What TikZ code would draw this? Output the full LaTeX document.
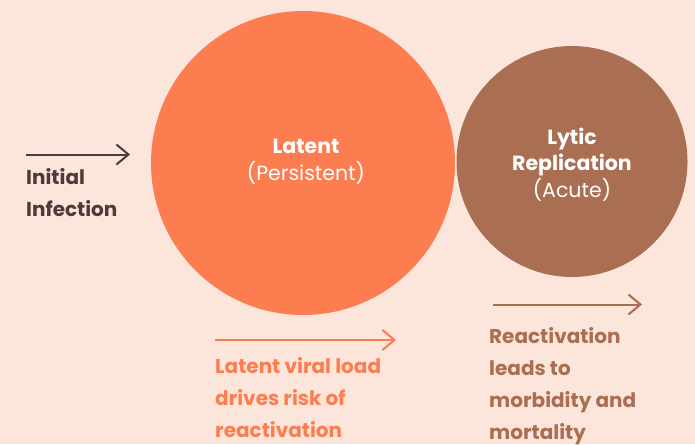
\documentclass[tikz,border=0pt]{standalone}
\usepackage{fontspec}
\setmainfont{Poppins}
\usetikzlibrary{arrows.meta}
\definecolor{bgpeach}{HTML}{FCE5DB}
\definecolor{latentorange}{HTML}{FC7E50}
\definecolor{lyticbrown}{HTML}{AA6E52}
\definecolor{darkink}{HTML}{4B3B3B}
\tikzset{
  phase/.style={circle, inner sep=0pt},
  phasetext/.style={inner sep=0pt, align=center, text=white,
    font=\fontsize{20.5}{26.5}\selectfont},
  flowarrow/.style={line width=2pt, -{Straight Barb[length=12pt, width=20pt, line width=2pt]}},
  caption/.style={anchor=north west, inner sep=0pt, align=left,
    font=\fontsize{20}{32}\selectfont\bfseries},
}
\begin{document}
\begin{tikzpicture}[x=1pt, y=-1pt]
  % canvas
  \fill[bgpeach] (0,0) rectangle (695,444);
  \useasboundingbox (0,0) rectangle (695,444);

  % the two phases
  \node[phase, fill=latentorange, minimum size=304pt] (latent) at (303,163) {};
  \node[phasetext] (latentTxt) at (306,161.5)
    {\textbf{Latent}\\(Persistent)};
  \node[phase, fill=lyticbrown, minimum size=231pt] (lytic) at (572,161.5) {};
  \node[phasetext] (lyticTxt) at (572,164.5)
    {\textbf{Lytic}\\\textbf{Replication}\\(Acute)};

  % initial infection
  \coordinate (infS) at (26,154.5);
  \coordinate (infE) at (130,154.5);
  \draw[flowarrow, darkink] (infS) -- (infE);
  \node[caption, text=darkink] (infTxt) at (26,168.5) {Initial\\Infection};

  % latent load arrow
  \coordinate (loadS) at (215,340);
  \coordinate (loadE) at (396,340);
  \draw[flowarrow, latentorange] (loadS) -- (loadE);
  \node[caption, text=latentorange] (loadTxt) at (215,357)
    {Latent viral load\\drives risk of\\reactivation};

  % reactivation arrow
  \coordinate (reacS) at (493,304.5);
  \coordinate (reacE) at (642,304.5);
  \draw[flowarrow, lyticbrown] (reacS) -- (reacE);
  \node[caption, text=lyticbrown] (reacTxt) at (489,327)
    {Reactivation\\leads to\\morbidity and\\mortality};
\end{tikzpicture}
\end{document}
